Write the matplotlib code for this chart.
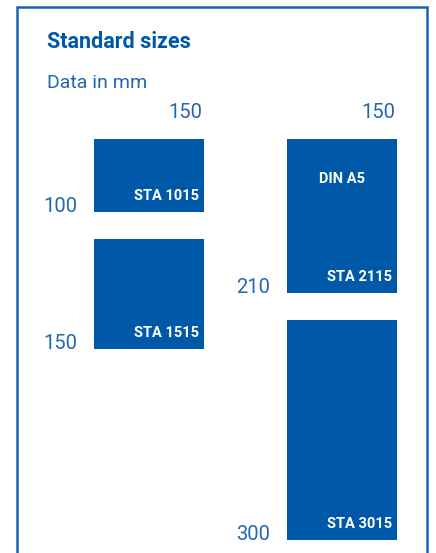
import matplotlib
matplotlib.use("Agg")
import matplotlib.pyplot as plt
from matplotlib.patches import Rectangle
import numpy as np

# sizes in mm
names = ["STA 1015", "STA 1515", "STA 2115", "STA 3015"]
widths = [150, 150, 150, 150]
heights = [100, 150, 210, 300]
column = [0, 0, 1, 1]
extra_label = {2: "DIN A5"}

title = "Standard sizes"
subtitle = "Data in mm"

BOX = "#0058a8"
TXT = "#2466b0"
FRAME = "#1a63b2"
FONT = ["Roboto", "DejaVu Sans"]
plt.rcParams['font.family'] = FONT

W, H = 436, 553
fig = plt.figure(figsize=(W / 100, H / 100), dpi=100)

# frame (open at the bottom, cut by the image edge)
fig.add_artist(Rectangle((17 / W, -0.05), (427 - 17) / W, 1.05 - 7 / H,
                         transform=fig.transFigure, fill=False,
                         edgecolor=FRAME, linewidth=1.8))

# axes in mm, origin at top-left of first box
s = 110 / 150.0          # px per mm
x0, y0 = 94, 139         # px of origin
ax = fig.add_axes([0, 0, 1, 1])
ax.set_xlim(-x0 / s, (W - x0) / s)
ax.set_ylim((H - y0) / s, -y0 / s)
ax.axis('off')

col_gap = 113   # mm between columns
row_gap = 37    # mm between boxes in a column

col_top = {}
for i, (nm, w, h, c) in enumerate(zip(names, widths, heights, column)):
    left = c * (150 + col_gap)
    top = col_top.get(c, 0)
    ax.add_patch(Rectangle((left, top), w, h, facecolor=BOX, edgecolor='none'))
    ax.text(left + w - 7, top + h - 17, nm, color='white', fontsize=10.5,
            fontweight='bold', ha='right', va='baseline')
    if i in extra_label:
        ax.text(left + w / 2, top + 60, extra_label[i], color='white', fontsize=10.5,
                fontweight='bold', ha='center', va='baseline')
    # height label
    ax.text(left - 23, top + h, str(h), color=TXT, fontsize=14.5,
            ha='right', va='baseline')
    # width label above first box of column
    if c not in col_top:
        ax.text(left + w - 2, top - 29, str(w), color=TXT, fontsize=14.5,
                ha='right', va='baseline')
    col_top[c] = top + h + row_gap

fig.text(47 / W, 1 - 48.5 / H, title, color=BOX, fontsize=15.5, fontweight='bold',
         ha='left', va='baseline')
fig.text(47 / W, 1 - 88 / H, subtitle, color=TXT, fontsize=14,
         ha='left', va='baseline')

fig.savefig("out.png", dpi=100)
